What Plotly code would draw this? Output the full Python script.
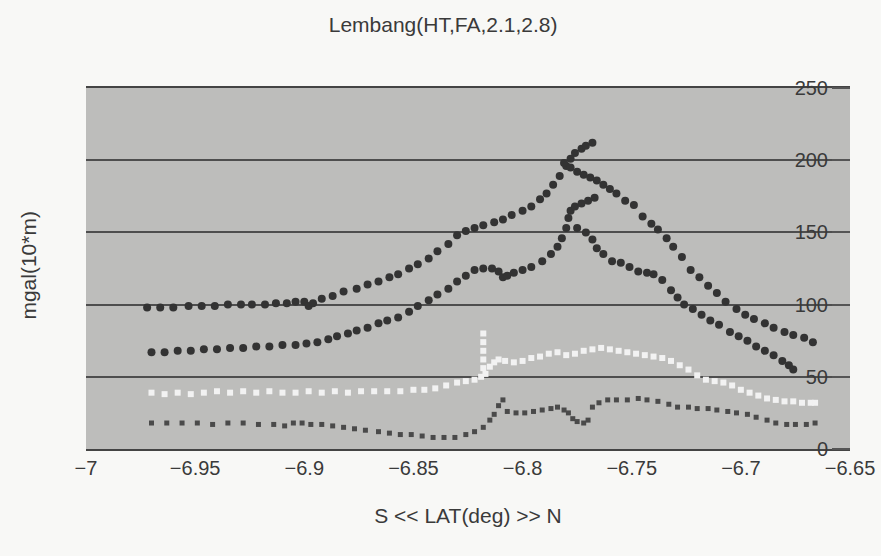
import plotly.graph_objects as go

# ---- data ----
s1_lat = [-6.972, -6.966, -6.960, -6.953, -6.947, -6.941, -6.935, -6.929, -6.924, -6.918,
          -6.913, -6.908, -6.904, -6.900, -6.898, -6.896, -6.892, -6.887, -6.882, -6.876,
          -6.871, -6.866, -6.861, -6.857, -6.852, -6.848, -6.843, -6.839, -6.834, -6.830,
          -6.826, -6.822, -6.818, -6.813, -6.809, -6.805, -6.800, -6.796, -6.792, -6.789,
          -6.786, -6.783, -6.780, -6.778, -6.776, -6.773, -6.771, -6.768,
          -6.781, -6.778, -6.775, -6.772, -6.769, -6.766, -6.763, -6.760, -6.757, -6.753,
          -6.749, -6.745, -6.741, -6.738, -6.734, -6.731, -6.727, -6.723, -6.719, -6.715,
          -6.711, -6.707, -6.702, -6.698, -6.694, -6.689, -6.685, -6.680, -6.676, -6.671,
          -6.667]
s1_val = [98, 98, 98, 99, 99, 99, 100, 100, 100, 100,
          101, 101, 102, 102, 99, 101, 104, 106, 109, 111,
          114, 116, 119, 121, 125, 128, 132, 137, 142, 148,
          151, 153, 155, 157, 159, 162, 165, 168, 173, 177,
          183, 189, 196, 201, 205, 208, 210, 212,
          198, 195, 192, 190, 188, 186, 183, 180, 177, 172,
          169, 161, 156, 152, 146, 140, 133, 124, 119, 113,
          108, 102, 97, 93, 90, 87, 84, 81, 79, 77,
          74]

s2_lat = [-6.970, -6.964, -6.958, -6.952, -6.946, -6.940, -6.934, -6.928, -6.922, -6.916,
          -6.910, -6.904, -6.899, -6.894, -6.889, -6.885, -6.880, -6.876, -6.871, -6.866,
          -6.862, -6.857, -6.852, -6.848, -6.843, -6.839, -6.834, -6.830, -6.826, -6.822,
          -6.818, -6.814, -6.811, -6.809, -6.807, -6.804, -6.800, -6.796, -6.791, -6.787,
          -6.784, -6.782, -6.780, -6.779, -6.778, -6.776, -6.773, -6.770, -6.767,
          -6.775, -6.771, -6.768, -6.766, -6.763, -6.759, -6.755, -6.751, -6.747, -6.743,
          -6.740, -6.736, -6.732, -6.729, -6.726, -6.722, -6.718, -6.714, -6.710, -6.705,
          -6.701, -6.697, -6.693, -6.689, -6.685, -6.681, -6.678, -6.676]
s2_val = [67, 67, 68, 68, 69, 69, 70, 70, 71, 71,
          72, 72, 73, 74, 76, 78, 80, 82, 84, 87,
          89, 91, 95, 99, 103, 107, 111, 116, 120, 124,
          125, 125, 123, 119, 120, 122, 124, 126, 130, 135,
          140, 146, 153, 160, 165, 168, 170, 172, 174,
          153, 150, 145, 139, 135, 130, 129, 126, 123, 122,
          121, 117, 110, 105, 100, 97, 93, 89, 86, 81,
          78, 75, 71, 68, 65, 61, 58, 55]

s3_lat = [-6.970, -6.964, -6.958, -6.952, -6.946, -6.940, -6.934, -6.928, -6.922, -6.916,
          -6.910, -6.904, -6.898, -6.892, -6.886, -6.880, -6.874, -6.868, -6.862, -6.856,
          -6.850, -6.845, -6.840, -6.835, -6.830, -6.826, -6.822, -6.819,
          -6.818, -6.818, -6.818, -6.818, -6.818,
          -6.817, -6.815, -6.813, -6.811, -6.808, -6.804, -6.800, -6.796, -6.792, -6.788,
          -6.784, -6.780, -6.776, -6.772, -6.768, -6.764, -6.760, -6.756, -6.752, -6.748,
          -6.744, -6.740, -6.736, -6.732, -6.728, -6.724, -6.720, -6.716, -6.712, -6.708,
          -6.704, -6.700, -6.696, -6.692, -6.688, -6.684, -6.680, -6.676, -6.672, -6.668,
          -6.666]
s3_val = [39, 38, 39, 38, 39, 40, 39, 40, 39, 40,
          39, 39, 40, 39, 40, 39, 40, 40, 40, 40,
          41, 41, 42, 44, 46, 47, 48, 50,
          56, 62, 68, 74, 80,
          52, 57, 60, 62, 61, 60, 61, 63, 64, 66,
          67, 65, 66, 68, 69, 70, 69, 68, 67, 66,
          65, 64, 63, 61, 58, 55, 51, 48, 47, 46,
          44, 41, 39, 37, 35, 34, 33, 33, 32, 32,
          32]

s4_lat = [-6.970, -6.963, -6.956, -6.949, -6.942, -6.935, -6.928, -6.921, -6.914, -6.909,
          -6.905, -6.901, -6.897, -6.892, -6.887, -6.882, -6.877, -6.872, -6.866, -6.861,
          -6.856, -6.851, -6.846, -6.841, -6.836, -6.831, -6.826, -6.822, -6.818, -6.815,
          -6.813, -6.811, -6.809, -6.807, -6.803, -6.799, -6.795, -6.791, -6.787, -6.784,
          -6.781, -6.779, -6.777, -6.775, -6.772, -6.770, -6.768, -6.765, -6.761, -6.757,
          -6.752, -6.747, -6.743, -6.738, -6.733, -6.729, -6.724, -6.720, -6.715, -6.711,
          -6.706, -6.702, -6.697, -6.693, -6.688, -6.684, -6.679, -6.675, -6.670, -6.666]
s4_val = [18, 18, 18, 18, 17, 18, 18, 17, 17, 16,
          18, 18, 17, 17, 16, 15, 14, 13, 12, 11,
          10, 10, 9, 8, 8, 8, 10, 12, 15, 20,
          24, 30, 34, 26, 25, 25, 26, 27, 28, 29,
          27, 25, 21, 19, 18, 20, 29, 32, 34, 34,
          34, 35, 34, 33, 31, 29, 29, 28, 28, 27,
          26, 25, 24, 22, 20, 18, 17, 17, 17, 18]

x_range = [-7, -6.65]
y_range = [0, 250]

TXT = "#3a3a3a"
FONT = "Liberation Sans, Arial, sans-serif"

fig = go.Figure()
fig.add_trace(go.Scatter(x=s3_lat, y=s3_val, mode="markers",
                         marker=dict(color="#f2f2f2", size=6, symbol="square"),
                         showlegend=False))
fig.add_trace(go.Scatter(x=s4_lat, y=s4_val, mode="markers",
                         marker=dict(color="#4a4a4a", size=5, symbol="square"),
                         showlegend=False))
fig.add_trace(go.Scatter(x=s2_lat, y=s2_val, mode="markers",
                         marker=dict(color="#333333", size=8, symbol="circle"),
                         showlegend=False))
fig.add_trace(go.Scatter(x=s1_lat, y=s1_val, mode="markers",
                         marker=dict(color="#333333", size=8, symbol="circle"),
                         showlegend=False))

fig.update_layout(
    width=881, height=556,
    paper_bgcolor="#f8f8f6",
    plot_bgcolor="#bdbdbb",
    margin=dict(l=86, r=31, t=88, b=107, autoexpand=False),
    font=dict(family=FONT, color=TXT, size=17),
    title=dict(text="Lembang(HT,FA,2.1,2.8)", x=0.503, xanchor="center",
               y=0.955, yanchor="middle", font=dict(size=21, color=TXT)),
    xaxis=dict(range=x_range, dtick=0.05, tick0=-7, showgrid=False, zeroline=False,
               showline=True, linecolor="#444444", linewidth=2, mirror=True,
               ticks="", tickfont=dict(size=20, color=TXT),
               title=dict(text="S << LAT(deg) >> N", font=dict(size=21, color=TXT), standoff=30)),
    yaxis=dict(range=y_range, dtick=50, side="left", anchor="free", position=1.0,
               ticks="outside", ticklen=18, tickcolor="#555555", tickwidth=1.5,
               showgrid=True, gridcolor="#4e4e4e", gridwidth=1.8, zeroline=False,
               showline=False, tickfont=dict(size=20, color=TXT)),
    annotations=[dict(text="mgal(10*m)", xref="paper", yref="paper", x=-0.075, y=0.51,
                      xanchor="center", yanchor="middle", textangle=-90, showarrow=False,
                      font=dict(size=21, color=TXT))],
)

fig.write_html("out.html", config={"displayModeBar": False},
               post_script="document.body.style.margin='0px';document.body.style.overflow='hidden';")
